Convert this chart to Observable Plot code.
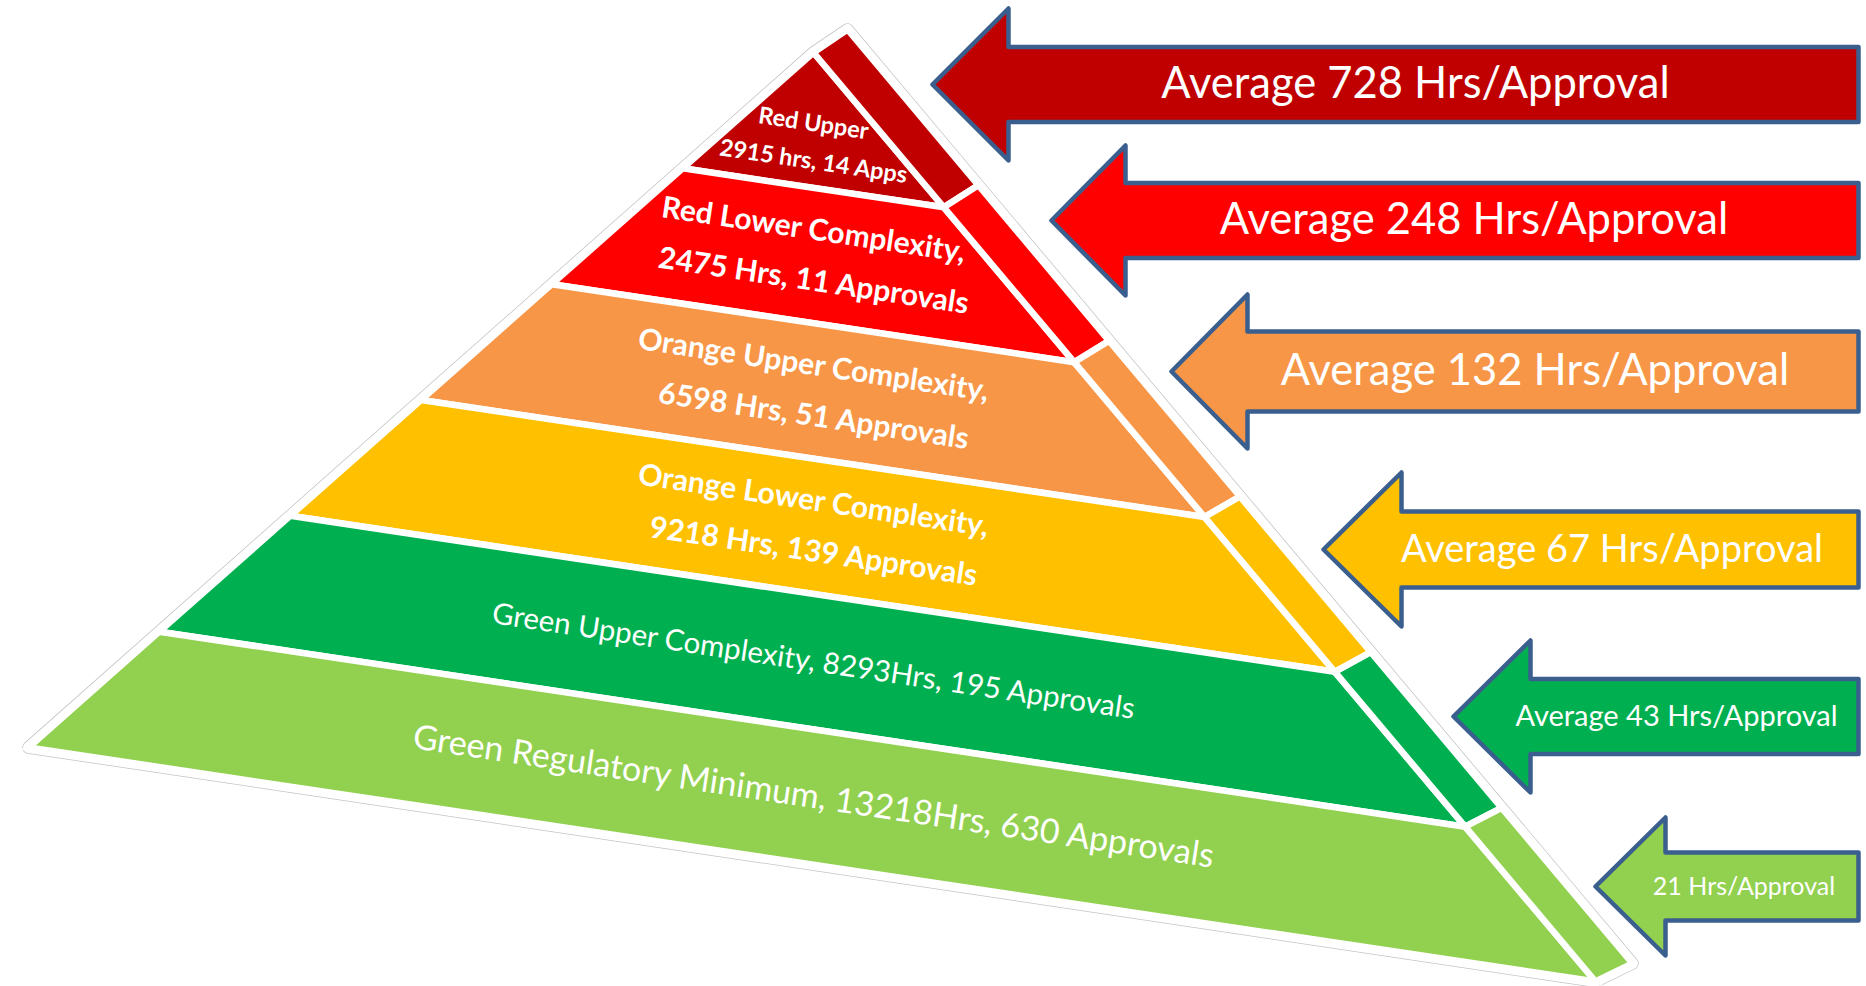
<!DOCTYPE html>
<html>
<head>
<meta charset="utf-8">
<script src="https://cdn.jsdelivr.net/npm/d3@7"></script>
<script src="https://cdn.jsdelivr.net/npm/@observablehq/plot@0.6"></script>
<style>
  html, body { margin: 0; padding: 0; background: #ffffff; overflow: hidden; }
  #chart svg { display: block; }
</style>
</head>
<body>
<div id="chart"></div>
<script>
// ---------------- DATA ----------------
const tiers = ["Red Upper", "Red Lower Complexity", "Orange Upper Complexity",
               "Orange Lower Complexity", "Green Upper Complexity", "Green Regulatory Minimum"];
const hours = [2915, 2475, 6598, 9218, 8293, 13218];
const approvals = [14, 11, 51, 139, 195, 630];
const avgHours = [728, 248, 132, 67, 43, 21];
const tierLabels = [
  ["Red Upper", "2915 hrs, 14 Apps"],
  ["Red Lower Complexity,", "2475 Hrs, 11 Approvals"],
  ["Orange Upper Complexity,", "6598 Hrs, 51 Approvals"],
  ["Orange Lower Complexity,", "9218 Hrs, 139 Approvals"],
  ["Green Upper Complexity, 8293Hrs, 195 Approvals"],
  ["Green Regulatory Minimum, 13218Hrs, 630 Approvals"]
];
const arrowLabels = ["Average 728 Hrs/Approval", "Average 248 Hrs/Approval", "Average 132 Hrs/Approval",
                     "Average 67 Hrs/Approval", "Average 43 Hrs/Approval", "21 Hrs/Approval"];

// ---------------- STYLE ----------------
const tierColors = ["#C00000", "#FF0000", "#F79646", "#FFC000", "#00B050", "#92D050"];
const arrowStroke = "#3A5F8E";
const FONT = "Lato, 'Open Sans', sans-serif";

// ---------------- LAYOUT (pixel frame of the drawing) ----------------
const W = 1866, H = 986;
const apexFront = [813, 52], baseLeft = [28, 747], baseRight = [1595, 981];
const apexSide = [847, 29], sideRight = [1632, 963];
const labelFont = [23.5, 30, 30, 30, 29.5, 34];
const labelWeight = ["bold", "bold", "bold", "bold", "normal", "normal"];
const labelGap = 51;
// arrows: centre y, tip x, head half-height, shaft half-height, head length
const arrowCY = [84, 220, 371, 549, 716, 886];
const arrowTipX = [932, 1051, 1171, 1323, 1453, 1595];
const arrowHeadHalf = [76, 75, 77, 77, 76, 69];
const arrowShaftHalf = [37.5, 37.5, 40, 38, 37.5, 34];
const arrowHeadLen = [76, 74, 76, 78, 77, 70];
const arrowRight = 1858;
const arrowFont = [43.5, 43.5, 43.5, 38, 29, 25];

// ---------------- GEOMETRY ----------------
const n = tiers.length;
const lerp = (p, q, t) => [p[0] + (q[0] - p[0]) * t, p[1] + (q[1] - p[1]) * t];
const PL = t => lerp(apexFront, baseLeft, t);
const PR = t => lerp(apexFront, baseRight, t);
const PS = t => lerp(apexSide, sideRight, t);
const pts = (arr) => { const a = arr.map(([x, y]) => ({x, y})); a.push(a[0]); return a; };

const frontPolys = tiers.map((name, k) => {
  const t0 = k / n, t1 = (k + 1) / n;
  const ring = k === 0 ? [PL(t1), apexFront, PR(t1)] : [PL(t0), PR(t0), PR(t1), PL(t1)];
  return {name, color: tierColors[k], points: pts(ring)};
});
const sidePolys = tiers.map((name, k) => {
  const t0 = k / n, t1 = (k + 1) / n;
  return {name, color: tierColors[k], points: pts([PR(t0), PS(t0), PS(t1), PR(t1)])};
});
const silhouette = pts([baseLeft, apexFront, apexSide, sideRight, baseRight]);

// y of a boundary line (fraction t) at x
function boundaryY(t, x) {
  const a = PL(t), b = PR(t);
  if (t === 0) return apexFront[1];
  return a[1] + (b[1] - a[1]) * (x - a[0]) / (b[0] - a[0]);
}
const angle = Math.atan2(baseRight[1] - baseLeft[1], baseRight[0] - baseLeft[0]) * 180 / Math.PI;
const cx = apexFront[0];
const labelRows = [];
tiers.forEach((name, k) => {
  let cy;
  if (k === 0) {
    const a = PL(1 / n), b = PR(1 / n);
    cy = (apexFront[1] + a[1] + b[1]) / 3;
  } else {
    cy = (boundaryY(k / n, cx) + boundaryY((k + 1) / n, cx)) / 2;
  }
  const lines = tierLabels[k];
  lines.forEach((txt, j) => {
    const off = (j - (lines.length - 1) / 2) * (k === 0 ? 38 : labelGap);
    labelRows.push({x: cx, y: cy + off, text: txt, size: labelFont[k], weight: labelWeight[k]});
  });
});

const arrows = avgHours.map((v, k) => {
  const cy = arrowCY[k], tx = arrowTipX[k], hx = tx + arrowHeadLen[k];
  const hh = arrowHeadHalf[k], sh = arrowShaftHalf[k];
  return {
    color: tierColors[k],
    points: pts([[tx, cy], [hx, cy - hh], [hx, cy - sh], [arrowRight, cy - sh],
                 [arrowRight, cy + sh], [hx, cy + sh], [hx, cy + hh]]),
    label: {x: (hx + arrowRight) / 2 - 18, y: cy, text: arrowLabels[k], size: arrowFont[k]}
  };
});

// ---------------- PLOT ----------------
const marks = [
  Plot.line(silhouette, {x: "x", y: "y", stroke: "#c4c4c4", strokeWidth: 12.5, strokeLinejoin: "round", fill: "white"}),
  Plot.line(silhouette, {x: "x", y: "y", stroke: "white", strokeWidth: 11, strokeLinejoin: "round"}),
  ...frontPolys.map(p => Plot.line(p.points, {x: "x", y: "y", fill: p.color, stroke: "white", strokeWidth: 6.5, strokeLinejoin: "miter", strokeMiterlimit: 4})),
  ...sidePolys.map(p => Plot.line(p.points, {x: "x", y: "y", fill: p.color, stroke: "white", strokeWidth: 6.5, strokeLinejoin: "miter", strokeMiterlimit: 4})),
  ...arrows.map(a => Plot.line(a.points, {x: "x", y: "y", fill: a.color, stroke: arrowStroke, strokeWidth: 4.5, strokeLinejoin: "round"})),
  ...labelRows.map(r => Plot.text([r], {x: "x", y: "y", text: "text", rotate: angle, fill: "white",
      fontSize: r.size, fontWeight: r.weight, fontFamily: FONT})),
  ...arrows.map(a => Plot.text([a.label], {x: "x", y: "y", text: "text", fill: "white",
      fontSize: a.label.size, fontFamily: FONT}))
];

const chart = Plot.plot({
  width: W, height: H,
  margin: 0,
  x: {domain: [0, W], range: [0, W], axis: null},
  y: {domain: [0, H], range: [0, H], axis: null},
  style: {background: "white", overflow: "visible"},
  marks
});
document.getElementById("chart").append(chart);
</script>
</body>
</html>
